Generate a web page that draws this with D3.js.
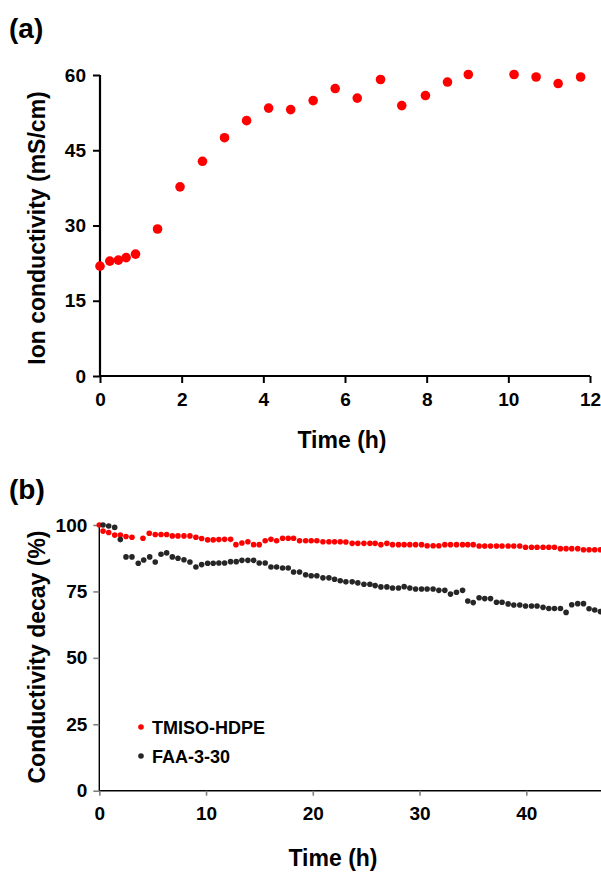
<!DOCTYPE html>
<html><head><meta charset="utf-8">
<script src="https://cdn.jsdelivr.net/npm/d3@7"></script>
<style>body{margin:0;background:#fff}svg{display:block}text{font-family:"Liberation Sans",Arial,sans-serif;font-weight:bold}</style>
</head><body>
<script>
// Panel (a)
const timeA = [0,0.24,0.45,0.64,0.87,1.41,1.96,2.51,3.05,3.59,4.13,4.67,5.22,5.76,6.30,6.87,7.39,7.97,8.51,9.02,10.14,10.68,11.22,11.77];
const condA = [21.9,22.9,23.1,23.6,24.3,29.3,37.7,42.8,47.5,50.9,53.4,53.1,54.9,57.3,55.4,59.1,53.9,55.9,58.6,60.1,60.1,59.6,58.3,59.6];
const ticksAx = [0,2,4,6,8,10,12];
const ticksAy = [0,15,30,45,60];

// Panel (b)
const seriesNames = ["TMISO-HDPE","FAA-3-30"];
const timeRed = [0,0.35,0.88,1.44,1.97,2.5,3.06,4.09,4.68,5.24,5.78,6.31,6.84,7.37,7.93,8.49,9.05,9.59,10.15,10.67,11.2,11.74,12.3,12.8,13.36,13.92,14.46,14.98,15.54,16.08,16.61,17.17,17.7,18.2,18.76,19.33,19.85,20.38,20.95,21.51,22.04,22.57,23.1,23.69,24.22,24.79,25.35,25.84,26.38,26.94,27.47,28.03,28.56,29.09,29.63,30.19,30.71,31.27,31.81,32.37,32.9,33.46,34.03,34.52,35.03,35.58,36.11,36.65,37.21,37.73,38.3,38.83,39.39,39.93,40.49,41.01,41.57,42.11,42.64,43.2,43.73,44.26,44.82,45.36,45.88,46.41,46.94];
const valRed = [100,97.7,97.2,96.2,96.2,95.7,95.4,95.0,96.9,96.4,96.4,96.4,95.9,95.9,95.9,95.9,95.4,94.9,94.4,94.4,94.5,94.6,94.6,92.6,93.2,93.7,92.6,92.6,94.1,94.6,94.1,95.0,95.0,95.0,94.1,94.1,94.1,94.1,93.7,93.7,93.7,93.7,93.6,93.1,93.1,93.1,93.1,93.1,92.6,93.1,92.6,92.6,92.6,92.6,92.6,92.6,92.2,92.2,92.2,92.6,92.6,92.6,92.6,92.6,92.6,92.1,92.1,92.1,92.1,92.1,92.1,92.1,92.1,91.6,91.6,91.6,91.6,91.6,91.6,91.1,91.1,91.1,91.1,90.7,90.7,90.7,90.7];
const timeBlack = [0.35,0.88,1.44,1.97,2.5,3.06,3.65,4.16,4.72,5.24,5.78,6.31,6.84,7.37,7.93,8.49,9.05,9.59,10.15,10.67,11.2,11.74,12.3,12.83,13.36,13.92,14.46,14.98,15.54,16.08,16.61,17.17,17.7,18.2,18.76,19.33,19.85,20.38,20.95,21.51,22.04,22.57,23.1,23.69,24.22,24.79,25.35,25.84,26.38,26.94,27.47,28.03,28.56,29.09,29.63,30.19,30.71,31.27,31.81,32.37,32.9,33.46,34.03,34.52,35.03,35.58,36.11,36.65,37.21,37.73,38.3,38.83,39.39,39.93,40.49,41.01,41.57,42.11,42.64,43.2,43.73,44.26,44.82,45.36,45.88,46.41,46.94];
const valBlack = [100,99.6,99.1,94.5,88.0,88.0,85.6,86.8,88.0,86.1,89.0,89.5,88.0,87.5,86.9,86.1,84.2,85.1,85.6,85.6,85.7,85.7,86.2,86.2,86.7,86.7,86.7,85.7,85.7,84.2,84.2,83.8,83.8,82.3,82.3,81.3,80.9,80.9,80.1,80.1,79.6,79.0,78.6,78.6,78.2,77.7,77.7,77.2,76.7,76.7,76.3,76.3,76.8,76.3,75.9,75.9,75.9,75.9,75.4,75.4,74.0,74.7,75.4,71.4,70.8,72.6,72.3,72.3,70.9,70.9,70.3,69.9,69.9,69.5,69.5,69.5,69.0,68.6,68.6,68.6,67.1,70.0,70.4,70.4,68.5,68.0,67.4];
const ticksBx = [0,10,20,30,40];
const ticksBy = [0,25,50,75,100];

const W = 601, H = 872;
const svg = d3.select("body").append("svg").attr("width", W).attr("height", H);
const FONT = "Liberation Sans, Arial, sans-serif";

// ---------- Panel (a) ----------
const xa = d3.scaleLinear().domain([0,12]).range([100,590]);
const ya = d3.scaleLinear().domain([0,60]).range([376,75]);

const gax = svg.append("g").attr("transform","translate(0,376)")
  .call(d3.axisBottom(xa).tickValues(ticksAx).tickSize(7).tickPadding(10));
const gay = svg.append("g").attr("transform","translate(100,0)")
  .call(d3.axisLeft(ya).tickValues(ticksAy).tickSize(7).tickPadding(7));
[gax,gay].forEach(g=>{
  g.select(".domain").attr("stroke","#000").attr("stroke-width",2.2);
  g.selectAll(".tick line").attr("stroke","#000").attr("stroke-width",2);
  g.selectAll(".tick text").attr("fill","#000").style("font-size","19px").style("font-weight","bold").style("font-family",FONT);
});
gax.select(".domain").attr("d","M100,0H590");
gay.select(".domain").attr("d","M0,75V376");

svg.append("g").selectAll("circle").data(timeA).join("circle")
  .attr("cx",(d)=>xa(d)).attr("cy",(d,i)=>ya(condA[i])).attr("r",4.8).attr("fill","#ff0000");

svg.append("text").attr("x",9).attr("y",38).style("font-size","28px").text("(a)");
svg.append("text").attr("transform","translate(45,228) rotate(-90)").attr("text-anchor","middle")
  .style("font-size","23px").text("Ion conductivity (mS/cm)");
svg.append("text").attr("x",342).attr("y",448).attr("text-anchor","middle").style("font-size","23px").text("Time (h)");

// ---------- Panel (b) ----------
const xb = d3.scaleLinear().domain([0,47]).range([99.3,601]);
const yb = d3.scaleLinear().domain([0,100]).range([790.7,525]);

const gbx = svg.append("g").attr("transform","translate(0,790.7)")
  .call(d3.axisBottom(xb).tickValues(ticksBx).tickSize(5).tickPadding(11));
const gby = svg.append("g").attr("transform","translate(99.3,0)")
  .call(d3.axisLeft(yb).tickValues(ticksBy).tickSize(6).tickPadding(6));
[gbx,gby].forEach(g=>{
  g.select(".domain").attr("stroke","#000").attr("stroke-width",1.4);
  g.selectAll(".tick line").attr("stroke","#808080").attr("stroke-width",1.6);
  g.selectAll(".tick text").attr("fill","#000").style("font-size","19px").style("font-weight","bold").style("font-family",FONT);
});
gbx.select(".domain").attr("d","M99.3,0H601");
gby.select(".domain").attr("d","M0,525V790.7");

const plotB = svg.append("g");
plotB.selectAll("circle.r").data(timeRed).join("circle").attr("class","r")
  .attr("cx",d=>xb(d)).attr("cy",(d,i)=>yb(valRed[i])).attr("r",2.8).attr("fill","#ff0000");
plotB.selectAll("circle.k").data(timeBlack).join("circle").attr("class","k")
  .attr("cx",d=>xb(d)).attr("cy",(d,i)=>yb(valBlack[i])).attr("r",2.8).attr("fill","#262626");

// legend
const legColors = ["#ff0000","#262626"];
const leg = svg.append("g").selectAll("g").data(seriesNames).join("g")
  .attr("transform",(d,i)=>`translate(141,${727+i*29})`);
leg.append("circle").attr("r",2.8).attr("fill",(d,i)=>legColors[i]);
leg.append("text").attr("x",11).attr("y",7).style("font-size","18px").text(d=>d);

svg.append("text").attr("x",9).attr("y",499).style("font-size","28px").text("(b)");
svg.append("text").attr("transform","translate(45,657) rotate(-90)").attr("text-anchor","middle")
  .style("font-size","23px").text("Conductivity decay (%)");
svg.append("text").attr("x",333).attr("y",866).attr("text-anchor","middle").style("font-size","23px").text("Time (h)");
</script>
</body></html>
